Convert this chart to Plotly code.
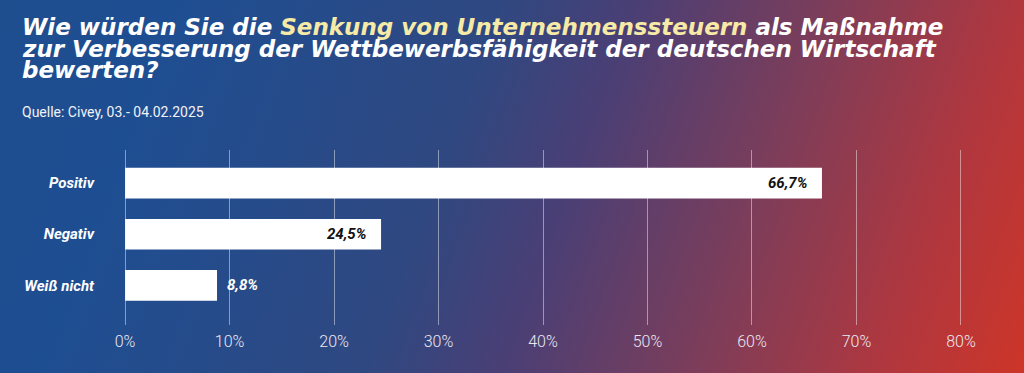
import base64
import plotly.graph_objects as go

# ---- data ----
categories = ["Positiv", "Negativ", "Weiß nicht"]
values = [66.7, 24.5, 8.8]
x_ticks = [0, 10, 20, 30, 40, 50, 60, 70, 80]
x_tick_labels = ["0%", "10%", "20%", "30%", "40%", "50%", "60%", "70%", "80%"]

title_lines = [
    'Wie würden Sie die <span style="color:#f6eaa6">Senkung von Unternehmenssteuern</span> als Maßnahme',
    "zur Verbesserung der Wettbewerbsfähigkeit der deutschen Wirtschaft",
    "bewerten?",
]
subtitle = "Quelle: Civey, 03.- 04.02.2025"

# ---- layout geometry ----
W, H = 1024, 373
ML, MR, MT, MB = 123, 61, 150, 48
PW, PH = W - ML - MR, H - MT - MB


def px(p):
    return (p - ML) / PW


def py(p):
    return (H - MB - p) / PH


svg = f'''<svg xmlns="http://www.w3.org/2000/svg" width="{W}" height="{H}" viewBox="0 0 {W} {H}" preserveAspectRatio="none">
<defs><linearGradient id="g" x1="0" y1="0" x2="{W}" y2="{H}" gradientUnits="userSpaceOnUse">
<stop offset="0" stop-color="#1e4e8e"/>
<stop offset="0.15" stop-color="#1e4e92"/>
<stop offset="0.43" stop-color="#2f4881"/>
<stop offset="0.55" stop-color="#4a3f75"/>
<stop offset="0.72" stop-color="#7e3d59"/>
<stop offset="0.88" stop-color="#b1373e"/>
<stop offset="1" stop-color="#cd3528"/>
</linearGradient></defs>
<rect width="{W}" height="{H}" fill="url(#g)"/>
</svg>'''
bg_uri = "data:image/svg+xml;base64," + base64.b64encode(svg.encode()).decode()

fig = go.Figure()
fig.add_trace(go.Bar(
    y=categories, x=values, orientation="h",
    marker=dict(color="#ffffff", line=dict(width=0)),
    width=0.6, hoverinfo="skip",
))

annotations = []
for cat, v in zip(categories, values):
    label = f"{v:.1f}".replace(".", ",") + "%"
    inside = v > 15
    annotations.append(dict(
        x=v, y=cat, xref="x", yref="y", text=label, showarrow=False,
        xanchor="right" if inside else "left",
        xshift=-13 if inside else 8,
        font=dict(family="Roboto", size=15, weight="bold", style="italic",
                  color="#111111" if inside else "#ffffff"),
    ))

title_centers = [27, 49, 70]
for line, yc in zip(title_lines, title_centers):
    annotations.append(dict(
        x=px(20), y=py(yc), xref="paper", yref="paper", text=line, showarrow=False,
        xanchor="left", yanchor="middle",
        font=dict(family="DejaVu Sans", size=23, weight="bold", style="italic", color="#ffffff"),
    ))
annotations.append(dict(
    x=px(20), y=py(112), xref="paper", yref="paper", text=subtitle, showarrow=False,
    xanchor="left", yanchor="middle",
    font=dict(family="Roboto", size=14, color="#f2f2f6"),
))

fig.update_layout(
    width=W, height=H,
    margin=dict(l=ML, r=MR, t=MT, b=MB, pad=0),
    paper_bgcolor="#3a4a7c", plot_bgcolor="rgba(0,0,0,0)",
    showlegend=False, bargap=0.4,
    images=[dict(source=bg_uri, xref="paper", yref="paper",
                 x=px(0), y=py(0), sizex=W / PW, sizey=H / PH,
                 xanchor="left", yanchor="top", sizing="stretch", layer="below")],
    xaxis=dict(range=[-0.2, 80.2], tickvals=x_ticks, ticktext=x_tick_labels,
               showgrid=True, gridcolor="rgba(255,255,255,0.45)", gridwidth=1,
               zeroline=False, showline=False, ticks="", ticklabelstandoff=5,
               tickfont=dict(family="Roboto", size=16, weight=300, color="#ece8f2"),
               fixedrange=True),
    yaxis=dict(range=[2.775, -0.647], showgrid=False, zeroline=False, showline=False,
               ticks="", ticklabelstandoff=28,
               tickfont=dict(family="Roboto", size=15, weight="bold", style="italic", color="#ffffff"),
               fixedrange=True),
    annotations=annotations,
)

fig.write_html("out.html", config={"displayModeBar": False})

# remove the default page margin so the figure sits at the window's corner
with open("out.html", encoding="utf-8") as f:
    html = f.read()
html = html.replace("<head>", "<head><style>html,body{margin:0;padding:0;}</style>", 1)
with open("out.html", "w", encoding="utf-8") as f:
    f.write(html)
